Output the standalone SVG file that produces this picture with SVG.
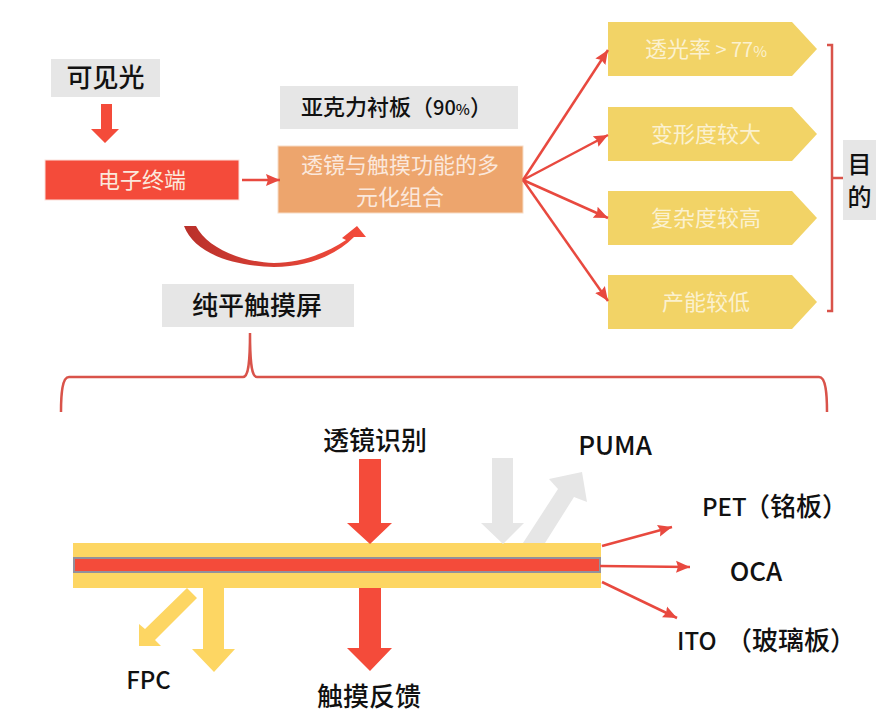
<svg xmlns="http://www.w3.org/2000/svg" width="880" height="721" viewBox="0 0 880 721">
<defs>
<linearGradient id="curve" x1="0" x2="1" y1="0" y2="0"><stop offset="0" stop-color="#b9302a"/><stop offset="0.5" stop-color="#d83f35"/><stop offset="1" stop-color="#f44b3a"/></linearGradient>
<marker id="tip" markerUnits="userSpaceOnUse" markerWidth="15" markerHeight="14" refX="14" refY="7" orient="auto"><path d="M0 1L14 7L0 13L2 7Z" fill="#e8493f"/></marker>
</defs>
<style>
text{font-family:"Noto Sans CJK SC","Noto Sans",sans-serif;text-anchor:middle}
.lb{font-size:26px;font-weight:500;fill:#111}
.st{text-anchor:start}
.lat{font-size:24px}
.wh{font-size:22px;fill:#fbf1cf}
.wr{font-size:22px;fill:#fbe8dc}
.nar{font-size:15px}
.gr{fill:#e6e6e6}
.ye{fill:#f2d366}
.li{fill:none;stroke:#e8493f;stroke-width:2.5}
.br{fill:none;stroke:#d9534a;stroke-width:2.5}
</style>
<rect width="880" height="721" fill="#fff"/>
<g id="visible-light"><rect class="gr" x="51" y="59" width="109" height="38"/><text class="lb" x="105.500" y="87">可见光</text></g>
<g id="acrylic"><rect class="gr" x="280" y="86" width="238" height="43"/><text class="st" x="301" y="115" font-size="22" font-weight="500" fill="#111">亚克力衬板（<tspan font-size="20">90</tspan><tspan class="nar">%</tspan>）</text></g>
<g id="terminal"><rect x="45" y="160" width="194" height="40" fill="#f44b3a" stroke="#fbe0da"/><text class="wr" x="142" y="188">电子终端</text></g>
<g id="lens"><rect x="278" y="146" width="245" height="67" fill="#eda56d" stroke="#f7dcc6"/><text class="wr"><tspan x="400" y="173">透镜与触摸功能的多</tspan><tspan x="400" y="205">元化组合</tspan></text></g>
<g id="flat-screen"><rect class="gr" x="162" y="284" width="192" height="43"/><text class="lb" x="257" y="315">纯平触摸屏</text></g>
<g id="goal-1"><path class="ye" d="M608 22H792L817 49L792 76H608Z"/><text class="wh" x="706" y="57">透光率<tspan font-size="20"> &gt; 77</tspan><tspan class="nar">%</tspan></text></g>
<g id="goal-2"><path class="ye" d="M608 107H792L817 134L792 161H608Z"/><text class="wh" x="706" y="142">变形度较大</text></g>
<g id="goal-3"><path class="ye" d="M608 191H792L817 218L792 245H608Z"/><text class="wh" x="706" y="226">复杂度较高</text></g>
<g id="goal-4"><path class="ye" d="M608 275H792L817 302L792 329H608Z"/><text class="wh" x="706" y="310">产能较低</text></g>
<g id="purpose"><rect class="gr" x="843" y="140" width="33" height="80"/><text x="859.500" y="173" font-size="24" font-weight="500" fill="#111">目</text><text x="859.500" y="206" font-size="24" font-weight="500" fill="#111">的</text></g>
<g id="stack"><rect x="73" y="543" width="528" height="45" fill="#fdd663"/><rect x="74" y="558" width="526" height="14" fill="#f44b3a" stroke="#93909c" stroke-width="2"/></g>
<g id="label-lens-id"><text class="lb" x="375" y="450">透镜识别</text></g>
<g id="label-puma"><text class="lb" x="615" y="455">PUMA</text></g>
<g id="label-pet"><text class="lb st" y="516"><tspan class="lat" x="702">PET</tspan><tspan x="744">（铭板）</tspan></text></g>
<g id="label-oca"><text class="lb" x="756" y="581">OCA</text></g>
<g id="label-ito"><text class="lb st" y="650"><tspan class="lat" x="677">ITO</tspan><tspan x="726">（玻璃板）</tspan></text></g>
<g id="label-fpc"><text class="lb lat" x="148.500" y="689">FPC</text></g>
<g id="label-feedback"><text class="lb" x="369" y="706">触摸反馈</text></g>
<g id="connectors">
<path fill="#f44b3a" d="M101 104H112V129H119L105 143L91 129H101Z"/>
<path fill="url(#curve)" d="M184 226H196C206 246 238 262 274 263C302 263 328 252 346 240L342 238L357 226L366 237L354 237C336 255 308 267 274 267C232 266 194 253 184 226Z"/>
<path fill="#f44b3a" d="M359 459H381V523H392L370 544L347 523H359Z"/>
<path fill="#f44b3a" d="M359 588H381V648H392L370 671L347 648H359Z"/>
<path fill="#fdd663" d="M203 588H224V649H235L214 672L192 649H203Z"/>
<path fill="#fdd663" d="M187 588L197 598L155 640L161 646H139V624L145 629Z"/>
<path fill="#e6e6e6" d="M492 458H513V523H524L503 544L481 523H492Z"/>
<path fill="#e6e6e6" d="M523 543L558 489L549 479L582 472L587 502L574 497L545 543Z"/>
<path class="li" marker-end="url(#tip)" d="M242 180H280"/>
<path class="li" marker-end="url(#tip)" d="M523 180L608 50"/>
<path class="li" marker-end="url(#tip)" d="M523 180L608 135"/>
<path class="li" marker-end="url(#tip)" d="M523 180L608 218"/>
<path class="li" marker-end="url(#tip)" d="M523 180L608 301"/>
<path class="li" marker-end="url(#tip)" d="M602 546L672 527"/>
<path class="li" marker-end="url(#tip)" d="M600 566L690 567"/>
<path class="li" marker-end="url(#tip)" d="M602 582L677 618"/>
<path class="br" d="M827 45H832V311H827M832 178H843"/>
<path class="br" d="M61 412C61 395 62 377 69 377H243C248 377 250 365 250 333C250 365 252 377 257 377H819C826 377 827 395 827 412"/>
</g>
</svg>
